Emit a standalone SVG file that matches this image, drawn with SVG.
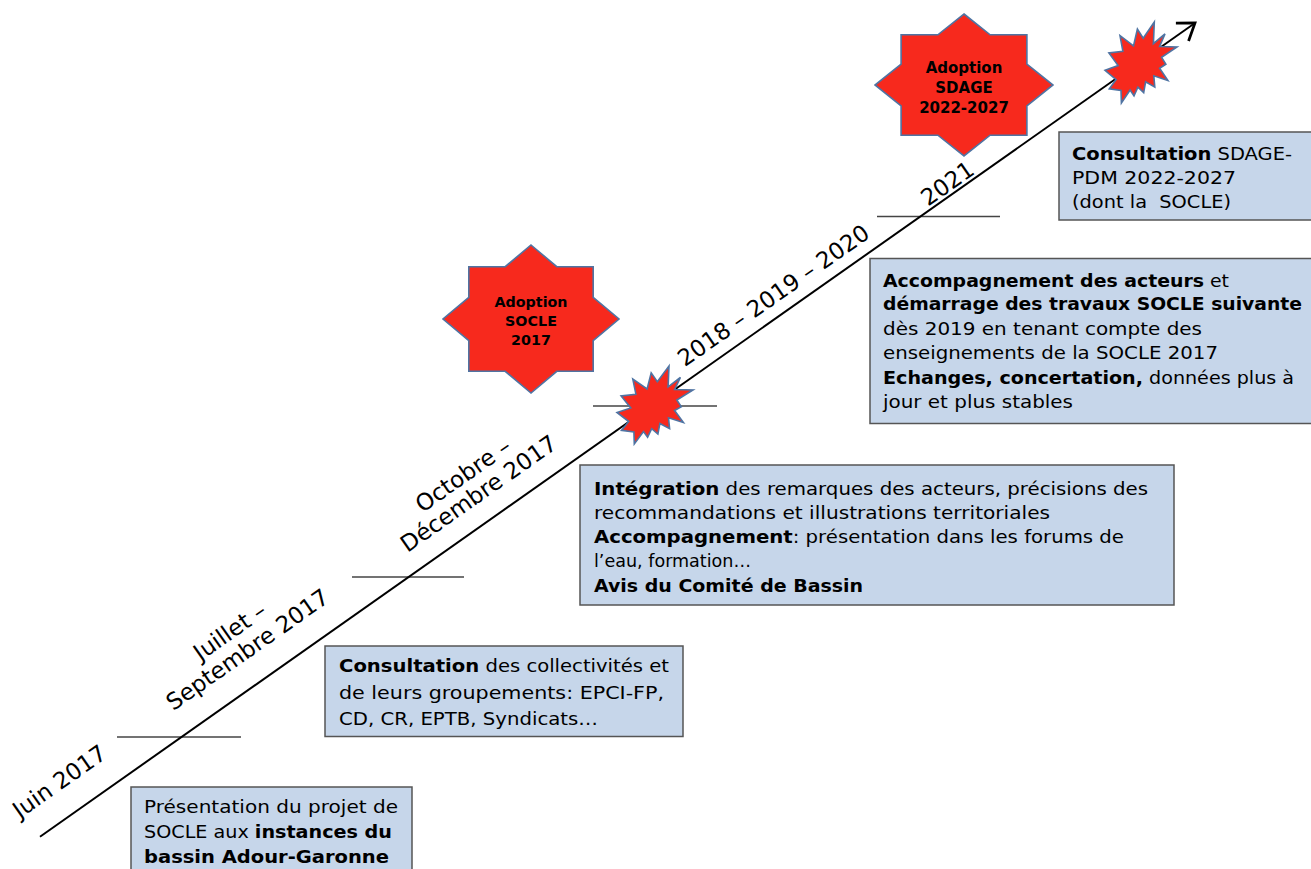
<svg xmlns="http://www.w3.org/2000/svg" width="1311" height="869" viewBox="0 0 1311 869">
<style>
.bg{fill:#ffffff}
.box{fill:#C6D6EA;stroke:#555555;stroke-width:1.5}
.star{fill:#F7291D;stroke:#4F74A3;stroke-width:1.6;stroke-linejoin:miter}
.seal{fill:#F7291D;stroke:#4F74A3;stroke-width:1.6;stroke-linejoin:miter}
.t{font-family:"DejaVu Sans","Liberation Sans",sans-serif;font-size:18.5px;fill:#000}
.b{font-weight:bold}
.st{font-family:"DejaVu Sans","Liberation Sans",sans-serif;font-weight:bold;fill:#000;text-anchor:middle}
.lbl{font-family:"DejaVu Sans","Liberation Sans",sans-serif;font-size:23px;fill:#000;text-anchor:middle}
.tick{stroke:#444444;stroke-width:1.4}
.axis{stroke:#000;stroke-width:2;fill:none}
</style>
<defs>
<marker id="arrow" markerUnits="userSpaceOnUse" markerWidth="30" markerHeight="30" refX="0" refY="0" viewBox="-16 -12 20 24" orient="auto" overflow="visible">
<path d="M-12.5,-8.8 L0,0 L-12.5,8.8" fill="none" stroke="#000" stroke-width="2.2" stroke-linejoin="miter"/>
</marker>
</defs>
<rect class="bg" x="0" y="0" width="1311" height="869"/>

<g id="ticks">
<line class="tick" x1="117" y1="737" x2="241" y2="737"/>
<line class="tick" x1="352" y1="577" x2="464" y2="577"/>
<line class="tick" x1="593" y1="406" x2="717" y2="406"/>
<line class="tick" x1="877" y1="216.5" x2="1000" y2="216.5"/>
</g>

<g id="connectors">
<line class="axis" x1="40" y1="836.7" x2="1195" y2="23" marker-end="url(#arrow)"/>
</g>

<g id="timeline-labels">
<text class="lbl" transform="translate(64,788) rotate(-35)">Juin 2017</text>
<g transform="translate(252,656) rotate(-35)">
<text class="lbl" x="-4" y="-25">Juillet –</text>
<text class="lbl" x="0" y="0">Septembre 2017</text>
</g>
<g transform="translate(483,500) rotate(-35)">
<text class="lbl" x="-2" y="-24">Octobre –</text>
<text class="lbl" x="0" y="0">Décembre 2017</text>
</g>
<text class="lbl" transform="translate(778,302) rotate(-35)">2018 – 2019 – 2020</text>
<text class="lbl" transform="translate(952,190) rotate(-35)">2021</text>
</g>

<g id="seal-2017">
<polygon class="seal" points="657.3,381.7 669.0,366.0 668.1,386.9 680.4,377.5 674.6,389.6 693.0,390.0 676.8,400.0 681.3,406.8 674.6,410.5 683.4,422.4 668.5,417.8 669.6,428.7 659.9,423.5 657.9,434.0 651.7,428.7 647.6,437.2 643.5,431.5 634.3,444.0 633.9,431.9 621.5,430.4 628.7,421.5 617.0,412.5 630.8,407.9 621.1,395.9 635.9,394.2 632.8,379.1 647.1,389.0 651.2,372.8"/>
</g>

<g id="seal-2022">
<polygon class="seal" points="1143.2,38.3 1154.3,22.0 1153.4,43.7 1165.0,33.9 1159.6,46.5 1177.0,46.9 1161.6,57.3 1165.9,64.3 1159.6,68.2 1167.9,80.6 1153.8,75.8 1154.8,87.1 1145.6,81.8 1143.7,92.7 1137.9,87.1 1134.0,95.9 1130.1,90.0 1121.4,103.0 1121.0,90.4 1109.3,88.8 1116.1,79.6 1105.0,70.3 1118.1,65.5 1108.9,53.0 1122.9,51.3 1120.0,35.6 1133.5,45.9 1137.4,29.1"/>
</g>

<g id="star-socle">
<polygon class="star" points="531,245 556.8,266.7 593.2,266.7 593.2,297.3 619,319 593.2,340.7 593.2,371.3 556.8,371.3 531,393 505.2,371.3 468.8,371.3 468.8,340.7 443,319 468.8,297.3 468.8,266.7 505.2,266.7"/>
<text class="st" font-size="14.3" x="531" y="307">Adoption</text>
<text class="st" font-size="14.3" x="531" y="326">SOCLE</text>
<text class="st" font-size="14.3" x="531" y="344.5">2017</text>
</g>

<g id="star-sdage">
<polygon class="star" points="964,14 990.1,34.8 1026.9,34.8 1026.9,64.2 1053,85 1026.9,105.8 1026.9,135.2 990.1,135.2 964,156 937.9,135.2 901.1,135.2 901.1,105.8 875,85 901.1,64.2 901.1,34.8 937.9,34.8"/>
<text class="st" font-size="15" x="964" y="73">Adoption</text>
<text class="st" font-size="15" x="964" y="93">SDAGE</text>
<text class="st" font-size="15" x="964" y="112.5">2022-2027</text>
</g>

<g id="box-presentation">
<rect class="box" x="131" y="787" width="281" height="100"/>
<text class="t" x="144" y="813" textLength="254" lengthAdjust="spacingAndGlyphs">Présentation du projet de</text>
<text class="t" x="144" y="838" textLength="248" lengthAdjust="spacingAndGlyphs">SOCLE aux <tspan class="b">instances du</tspan></text>
<text class="t b" x="144" y="863" textLength="245" lengthAdjust="spacingAndGlyphs">bassin Adour-Garonne</text>
</g>

<g id="box-consultation-collectivites">
<rect class="box" x="325" y="646" width="358" height="90.5"/>
<text class="t" x="339" y="672" textLength="330" lengthAdjust="spacingAndGlyphs"><tspan class="b">Consultation</tspan> des collectivités et</text>
<text class="t" x="339" y="698.5" textLength="325" lengthAdjust="spacingAndGlyphs">de leurs groupements: EPCI-FP,</text>
<text class="t" x="339" y="725" textLength="259" lengthAdjust="spacingAndGlyphs">CD, CR, EPTB, Syndicats…</text>
</g>

<g id="box-integration">
<rect class="box" x="580" y="465" width="594" height="140"/>
<text class="t" x="594" y="495" textLength="554" lengthAdjust="spacingAndGlyphs"><tspan class="b">Intégration</tspan> des remarques des acteurs, précisions des</text>
<text class="t" x="594" y="518.5" textLength="456" lengthAdjust="spacingAndGlyphs">recommandations et illustrations territoriales</text>
<text class="t" x="594" y="543" textLength="530" lengthAdjust="spacingAndGlyphs"><tspan class="b">Accompagnement</tspan>: présentation dans les forums de</text>
<text class="t" x="594" y="566.5" textLength="157" lengthAdjust="spacingAndGlyphs">l’eau, formation…</text>
<text class="t b" x="594" y="591.5" textLength="269" lengthAdjust="spacingAndGlyphs">Avis du Comité de Bassin</text>
</g>

<g id="box-accompagnement">
<rect class="box" x="870" y="258.5" width="445" height="165"/>
<text class="t" x="883" y="287" textLength="346" lengthAdjust="spacingAndGlyphs"><tspan class="b">Accompagnement des acteurs</tspan> et</text>
<text class="t b" x="883" y="309.5" textLength="419" lengthAdjust="spacingAndGlyphs">démarrage des travaux SOCLE suivante</text>
<text class="t" x="883" y="335" textLength="319" lengthAdjust="spacingAndGlyphs">dès 2019 en tenant compte des</text>
<text class="t" x="883" y="358.5" textLength="335" lengthAdjust="spacingAndGlyphs">enseignements de la SOCLE 2017</text>
<text class="t" x="883" y="383.5" textLength="411" lengthAdjust="spacingAndGlyphs"><tspan class="b">Echanges, concertation,</tspan> données plus à</text>
<text class="t" x="883" y="407.5" textLength="190" lengthAdjust="spacingAndGlyphs">jour et plus stables</text>
</g>

<g id="box-consultation-sdage">
<rect class="box" x="1059" y="132" width="256" height="88"/>
<text class="t" x="1072" y="160" textLength="220" lengthAdjust="spacingAndGlyphs"><tspan class="b">Consultation</tspan> SDAGE-</text>
<text class="t" x="1072" y="184" textLength="164" lengthAdjust="spacingAndGlyphs">PDM 2022-2027</text>
<text class="t" x="1072" y="208" textLength="159" lengthAdjust="spacingAndGlyphs" xml:space="preserve">(dont la  SOCLE)</text>
</g>
</svg>
